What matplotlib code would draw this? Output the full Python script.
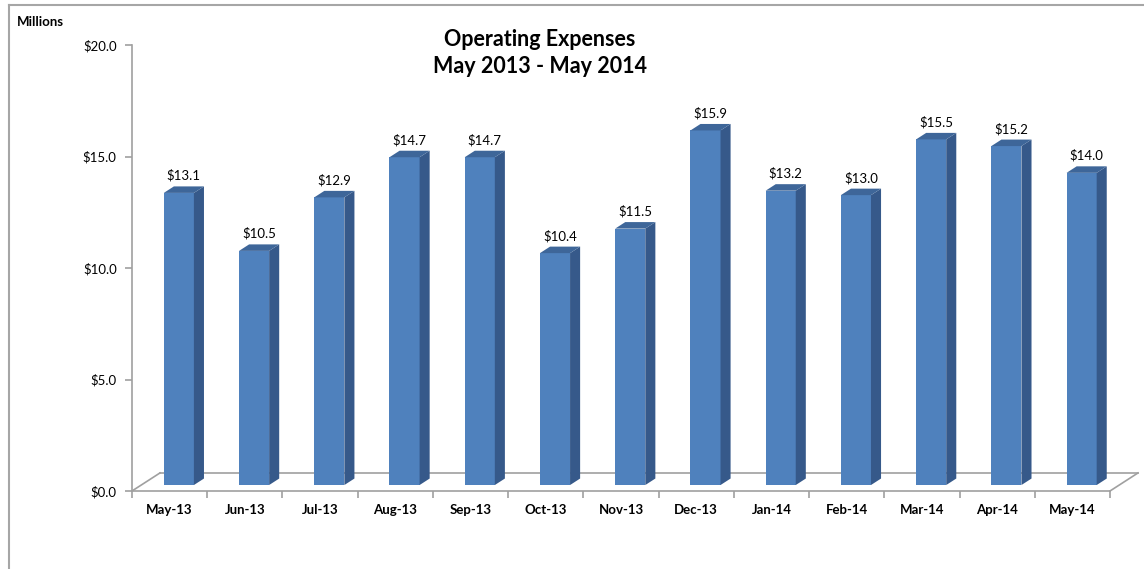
"""Operating expenses May 2013 - May 2014, Excel-style 3D column chart."""

import matplotlib

matplotlib.use("Agg")
import matplotlib.pyplot as plt
from matplotlib.lines import Line2D
from matplotlib.patches import Polygon

months = ["May-13", "Jun-13", "Jul-13", "Aug-13", "Sep-13", "Oct-13", "Nov-13",
          "Dec-13", "Jan-14", "Feb-14", "Mar-14", "Apr-14", "May-14"]
expenses = [13.1, 10.5, 12.9, 14.7, 14.7, 10.4, 11.5, 15.9, 13.2, 13.0, 15.5, 15.2, 14.0]
y_ticks = [0, 5, 10, 15, 20]

FRONT = "#4F81BD"
SIDE = "#36598A"
TOP = "#3E6699"
GRID = "#A0A0A0"

# floor depth (data units) and where the bars sit inside it
DX, DY = 0.372, 0.81
F0, BD = 0.33, 0.36
W = 0.40

plt.rcParams["font.family"] = ["Lato", "DejaVu Sans"]

fig = plt.figure(figsize=(11.44, 5.69), dpi=100)
ax = fig.add_axes([132 / 1144, 78 / 569, 978 / 1144, 446 / 569])
ax.set_xlim(0, len(months))
ax.set_ylim(0, 20)

# floor
n = len(months)
for xs, ys in [((0, n), (0, 0)), ((0, DX), (0, DY)), ((n, n + DX), (0, DY)),
               ((DX, n + DX), (DY, DY))]:
    ax.plot(xs, ys, color=GRID, lw=1.2, clip_on=False, zorder=1)

for i, v in enumerate(expenses):
    x0 = i + 0.5 - W / 2 + F0 * DX
    y0 = F0 * DY
    sx, sy = BD * DX, BD * DY
    ax.bar(x0, v, width=W, bottom=y0, align="edge", color=FRONT,
           edgecolor="none", zorder=3, clip_on=False)
    ax.add_patch(Polygon([(x0 + W, y0), (x0 + W + sx, y0 + sy),
                          (x0 + W + sx, y0 + v + sy), (x0 + W, y0 + v)],
                         closed=True, facecolor=SIDE, edgecolor="none",
                         zorder=3, clip_on=False))
    ax.add_patch(Polygon([(x0, y0 + v), (x0 + W, y0 + v),
                          (x0 + W + sx, y0 + v + sy), (x0 + sx, y0 + v + sy)],
                         closed=True, facecolor=TOP, edgecolor="none",
                         zorder=3, clip_on=False))
    ax.text(x0 + W / 2 + sx / 2, y0 + v + sy + 0.2, f"${v:.1f}",
            ha="center", va="bottom", fontsize=9.5, color="black")

for side in ("top", "right", "bottom"):
    ax.spines[side].set_visible(False)
ax.spines["left"].set_color(GRID)
ax.spines["left"].set_linewidth(1.2)

ax.set_yticks(y_ticks)
ax.set_yticklabels([f"${t:.1f}" for t in y_ticks], fontsize=9.5)
ax.set_xticks(range(n + 1))
ax.set_xticklabels([])
ax.set_xticks([i + 0.5 for i in range(n)], minor=True)
ax.set_xticklabels(months, minor=True, fontsize=9.5, fontweight="bold")
ax.tick_params(axis="both", which="major", color=GRID, length=5, width=1.2)
ax.tick_params(axis="x", which="minor", length=0, pad=9)
ax.tick_params(axis="y", pad=6)

fig.text(540 / 1144, 1 - 53 / 569, "Operating Expenses\nMay 2013 - May 2014",
         ha="center", va="center", fontsize=15.5, fontweight="bold",
         linespacing=1.35)
fig.text(17 / 1144, 1 - 22 / 569, "Millions", ha="left", va="center",
         fontsize=9.5, fontweight="bold")

# chart frame (left and top edges)
fig.add_artist(Line2D([9 / 1144, 9 / 1144], [0, 1 - 5 / 569],
                      transform=fig.transFigure, color="#A6A6A6", lw=1.5))
fig.add_artist(Line2D([9 / 1144, 1], [1 - 5 / 569, 1 - 5 / 569],
                      transform=fig.transFigure, color="#A6A6A6", lw=1.5))

fig.savefig("out.png", dpi=100)
